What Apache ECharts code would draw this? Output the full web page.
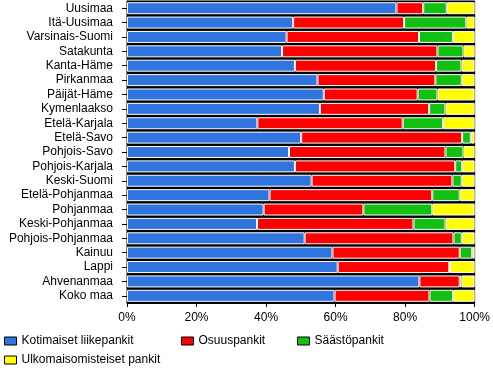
<!DOCTYPE html>
<html>
<head>
<meta charset="utf-8">
<script src="https://cdn.jsdelivr.net/npm/echarts@6/dist/echarts.min.js"></script>
<style>
html,body{margin:0;padding:0;background:#fff;}
#chart{width:493px;height:370px;}
</style>
</head>
<body>
<div id="chart"></div>
<script>
const categories = ["Uusimaa","Itä-Uusimaa","Varsinais-Suomi","Satakunta","Kanta-Häme","Pirkanmaa","Päijät-Häme","Kymenlaakso","Etelä-Karjala","Etelä-Savo","Pohjois-Savo","Pohjois-Karjala","Keski-Suomi","Etelä-Pohjanmaa","Pohjanmaa","Keski-Pohjanmaa","Pohjois-Pohjanmaa","Kainuu","Lappi","Ahvenanmaa","Koko maa"];
const kotimaiset = [77.5,47.8,45.9,44.6,48.3,54.8,56.6,55.5,37.5,50.1,46.6,48.3,53.1,41.0,39.3,37.4,51.1,59.1,60.6,84.1,59.7];
const osuuspankit = [7.7,31.9,38.1,44.7,40.6,33.9,27.0,31.4,41.8,46.3,45.0,46.1,40.5,46.8,28.7,45.0,42.8,36.6,32.1,11.6,27.3];
const saastopankit = [6.8,17.9,9.8,7.5,7.3,7.6,5.7,4.7,11.6,2.5,5.2,2.0,2.7,7.9,19.8,9.2,2.4,3.6,0.2,0.5,6.8];
const ulkomaiset = [8.0,2.4,6.2,3.2,3.8,3.7,10.7,8.4,9.1,1.1,3.2,3.6,3.7,4.3,12.2,8.4,3.7,0.7,7.1,3.8,6.2];
const seriesNames = ["Kotimaiset liikepankit","Osuuspankit","Säästöpankit","Ulkomaisomisteiset pankit"];
const xTicks = [0,20,40,60,80,100];

const colors = ["#2f74df","#ff0000","#12c012","#ffff00"];
const values = [kotimaiset, osuuspankit, saastopankit, ulkomaiset];
const font = "Liberation Sans, Arial, sans-serif";

const chart = echarts.init(document.getElementById('chart'), null, {renderer:'canvas'});
const legendPos = [[4,335],[181,335],[297,335],[4,354]];
chart.setOption({
  animation:false,
  textStyle:{fontFamily:font},
  grid:{left:127,right:18,top:1,bottom:67,show:true,backgroundColor:'#000',borderColor:'#000',borderWidth:1,containLabel:false},
  xAxis:{type:'value',min:xTicks[0],max:xTicks[xTicks.length-1],interval:20,
    axisLine:{show:true,lineStyle:{color:'#000',width:1}},
    axisTick:{show:true,length:4,lineStyle:{color:'#000'}},
    splitLine:{show:false},
    axisLabel:{formatter:v=>v+'%',color:'#000',fontSize:12,margin:9,fontFamily:font}},
  yAxis:{type:'category',inverse:true,data:categories,
    axisLine:{show:true,lineStyle:{color:'#000',width:1}},
    axisTick:{show:true,length:5,alignWithLabel:true,interval:0,lineStyle:{color:'#000'}},
    axisLabel:{interval:0,color:'#000',fontSize:12,margin:14,fontFamily:font}},
  legend: seriesNames.map((n,i)=>({
    data:[n],left:legendPos[i][0],top:legendPos[i][1],padding:0,
    icon:'rect',itemWidth:12,itemHeight:8,
    itemStyle:{borderColor:'#000',borderWidth:1},
    textStyle:{color:'#000',fontSize:12,fontFamily:font},
    selectedMode:false})),
  series: seriesNames.map((n,i)=>({
    name:n,type:'bar',stack:'total',data:values[i],barWidth:12,silent:true,
    itemStyle:{color:colors[i],borderColor:'#fff',borderWidth:1}
  }))
});
</script>
</body>
</html>
